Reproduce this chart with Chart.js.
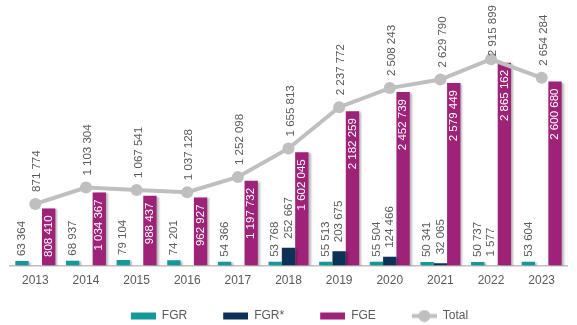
<!DOCTYPE html>
<html>
<head>
<meta charset="utf-8">
<script src="https://cdn.jsdelivr.net/npm/chart.js@4/dist/chart.umd.min.js"></script>
<style>
  html, body { margin: 0; padding: 0; background: #ffffff; }
  #wrap { width: 577px; height: 325px; position: relative; }
</style>
</head>
<body>
<div id="wrap"><canvas id="c"></canvas></div>
<script>
// Years and series
const years = ['2013', '2014', '2015', '2016', '2017', '2018', '2019', '2020', '2021', '2022', '2023'];
const fgr = [63364, 68937, 79104, 74201, 54366, 53768, 55513, 55504, 50341, 50737, 53604];
const fgrStar = [null, null, null, null, null, 252667, 203675, 124466, 32065, 1577, null];
const fge = [808410, 1034367, 988437, 962927, 1197732, 1602045, 2182259, 2452739, 2579449, 2865162, 2600680];
const total = [871774, 1103304, 1067541, 1037128, 1252098, 1655813, 2237772, 2508243, 2629790, 2915899, 2654284];

const COL_FGR = '#12999a';
const COL_FGRS = '#0c3357';
const COL_FGE = '#9e2277';
const COL_TOTAL = '#bfbfbf';
const TXT = '#595959';
const FONT = '"Liberation Sans", Arial, sans-serif';

const LEGEND_PAD = 14;    // legend padding (also vertical)
const LEGEND_BLANK = 22;  // extra horizontal room before each swatch
const fmt = v => String(v).replace(/\B(?=(\d{3})+(?!\d))/g, ' ');

// Legend swatches drawn on small canvases; the left part is blank spacing
function swatch(kind, color) {
  const cv = document.createElement('canvas');
  cv.width = 25 + LEGEND_BLANK; cv.height = 13;
  const g = cv.getContext('2d');
  const x0 = LEGEND_BLANK;
  if (kind === 'bar') {
    g.fillStyle = color;
    g.fillRect(x0, 3, 25, 7);
  } else {
    g.strokeStyle = color; g.lineWidth = 4;
    g.beginPath(); g.moveTo(x0, 6.5); g.lineTo(x0 + 25, 6.5); g.stroke();
    g.fillStyle = color;
    g.beginPath(); g.arc(x0 + 12.5, 6.5, 6, 0, Math.PI * 2); g.fill();
  }
  return cv;
}

// Soft drop shadow under the bars
const barShadow = {
  id: 'barShadow',
  beforeDatasetDraw(chart, args) {
    const ctx = chart.ctx;
    ctx.save();
    if (chart.getDatasetMeta(args.index).type === 'bar') {
      ctx.shadowColor = 'rgba(0,0,0,0.28)';
      ctx.shadowOffsetX = 2;
      ctx.shadowOffsetY = 1;
      ctx.shadowBlur = 2;
    }
  },
  afterDatasetDraw(chart) { chart.ctx.restore(); }
};

// Vertical value labels
const valueLabels = {
  id: 'valueLabels',
  afterDatasetsDraw(chart) {
    const ctx = chart.ctx;
    const baseY = chart.chartArea.bottom;
    ctx.save();
    ctx.font = '11.5px ' + FONT;
    ctx.textBaseline = 'middle';
    chart.data.datasets.forEach((ds, di) => {
      const meta = chart.getDatasetMeta(di);
      meta.data.forEach((el, i) => {
        const v = ds.data[i];
        if (v === null || v === undefined) return;
        const txt = fmt(v);
        const w = ctx.measureText(txt).width;
        let ax, ay, align, color;
        if (ds.label === 'FGE') {
          ax = el.x; color = '#ffffff'; align = 'right';
          ay = Math.min(el.y + 7, baseY - 6 - w);
        } else if (ds.label === 'Total') {
          // keep the label inside the canvas
          ax = el.x + 2; ay = Math.max(el.y - 12, 5 + w); align = 'left'; color = TXT;
        } else if (ds.label === 'FGR*') {
          ax = el.x; ay = el.y - 9; align = 'left'; color = TXT;
        } else {
          ax = el.x; ay = el.y - 5; align = 'left'; color = TXT;
        }
        ctx.save();
        ctx.translate(ax, ay);
        ctx.rotate(-Math.PI / 2);
        ctx.fillStyle = color;
        ctx.textAlign = align;
        ctx.fillText(txt, 0, 0);
        ctx.restore();
      });
    });
    ctx.restore();
  }
};

new Chart(document.getElementById('c'), {
  data: {
    labels: years,
    datasets: [
      { type: 'line', label: 'Total', data: total, order: 0,
        borderColor: COL_TOTAL, backgroundColor: COL_TOTAL, borderWidth: 4,
        pointRadius: 6, pointBackgroundColor: COL_TOTAL, pointBorderWidth: 0,
        tension: 0, legendKind: 'line' },
      { type: 'bar', label: 'FGR', data: fgr, backgroundColor: COL_FGR, order: 1, legendKind: 'bar' },
      { type: 'bar', label: 'FGR*', data: fgrStar, backgroundColor: COL_FGRS, order: 1, legendKind: 'bar' },
      { type: 'bar', label: 'FGE', data: fge, backgroundColor: COL_FGE, order: 1, legendKind: 'bar' }
    ]
  },
  options: {
    responsive: true,
    maintainAspectRatio: false,
    animation: false,
    layout: { padding: { top: 25, left: 10, right: 10, bottom: -7 } },
    datasets: { bar: { barPercentage: 1, categoryPercentage: 0.79 } },
    scales: {
      x: {
        grid: { display: false, drawTicks: false },
        border: { color: '#bfbfbf', width: 1.5 },
        ticks: { color: TXT, font: { size: 12, family: FONT }, padding: 8 }
      },
      y: { display: false, min: 0, max: 3400000 }
    },
    plugins: {
      tooltip: { enabled: false },
      legend: {
        position: 'bottom',
        labels: {
          usePointStyle: true,
          pointStyleWidth: 25 + LEGEND_BLANK,
          boxHeight: 12,
          padding: LEGEND_PAD,
          color: TXT,
          font: { size: 12, family: FONT },
          generateLabels(chart) {
            const order = [1, 2, 3, 0];
            return order.map(i => {
              const ds = chart.data.datasets[i];
              return {
                text: ds.label,
                pointStyle: swatch(ds.legendKind, ds.backgroundColor),
                fillStyle: ds.backgroundColor,
                strokeStyle: ds.backgroundColor,
                lineWidth: 0,
                hidden: false,
                datasetIndex: i,
                fontColor: TXT
              };
            });
          }
        }
      }
    }
  },
  plugins: [barShadow, valueLabels]
});
</script>
</body>
</html>
